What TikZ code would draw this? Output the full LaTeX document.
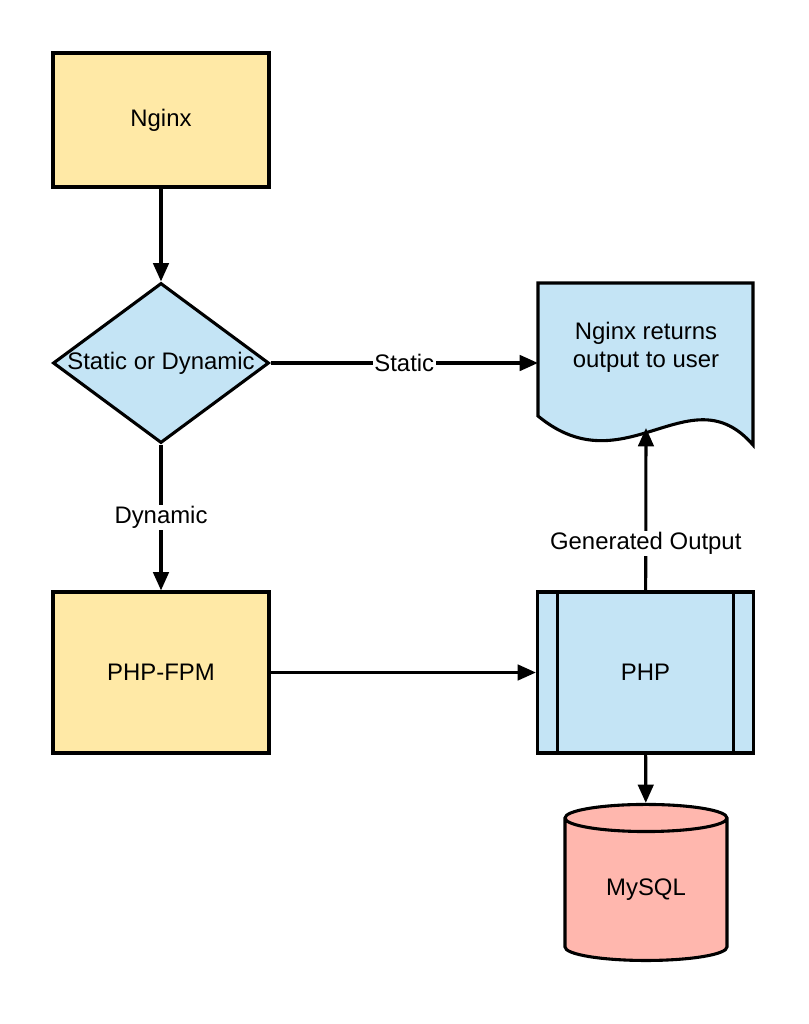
\documentclass[tikz,border=0pt]{standalone}
\usepackage{fontspec}
\setmainfont{Liberation Sans}
\usetikzlibrary{arrows.meta,shapes.geometric}
\definecolor{boxyellow}{HTML}{FFE9A6}
\definecolor{boxblue}{HTML}{C4E4F5}
\definecolor{boxred}{HTML}{FFB7AE}

\begin{document}
\begin{tikzpicture}[x=0.025cm,y=-0.025cm,line width=2.2pt,
    font=\fontsize{17}{20}\selectfont,
    proc/.style={shape=rectangle,draw=black,fill=boxyellow,minimum width=5.4cm,inner sep=0pt},
    arr/.style={-{Triangle[length=13pt,width=11pt]}}]
  \useasboundingbox (0,0) rectangle (808,1024);
  \node[proc,minimum height=3.35cm] (nginx) at (161,120) {Nginx};
  \node[shape=diamond,draw=black,fill=boxblue,minimum width=5.4cm,minimum height=4cm,inner sep=0pt] (dec) at (161,363) {};
  \node (declabel) at (dec) {Static or Dynamic};
  % output document
  \draw[fill=boxblue] (538,283) -- (753,283) -- (753,445) .. controls (690,372) and (625,488) .. (538,416) -- cycle;
  \node[align=center] (out) at (646,347) {Nginx returns\\output to user};
  \coordinate (outw) at (538,363);
  \coordinate (outb) at (646,428);
  \node[proc,minimum height=4.025cm] (fpm) at (161,672.5) {PHP-FPM};
  \node[proc,fill=boxblue,minimum height=4.025cm] (php) at (645.5,672.5) {PHP};
  \draw ([xshift=0.55cm]php.north west) -- ([xshift=0.55cm]php.south west);
  \draw ([xshift=-0.55cm]php.north east) -- ([xshift=-0.55cm]php.south east);
  \node[shape=cylinder,shape border rotate=90,aspect=0.34,draw=black,fill=boxred,minimum width=4.05cm,minimum height=3.9cm,inner sep=0pt] (db) at (646,890) {MySQL};
  \draw[arr] (nginx) to (dec);
  \draw[arr] (dec) to node [fill=white,inner sep=1pt] {Static} (outw);
  \draw[arr] (dec) to node [fill=white,inner sep=1pt] {Dynamic} (fpm);
  \draw[arr] (fpm) to (php);
  \draw[arr] (php) to node [pos=0.29,fill=white,inner sep=1pt] {Generated Output} (outb);
  \draw[arr] (php) to (db);
\end{tikzpicture}
\end{document}
